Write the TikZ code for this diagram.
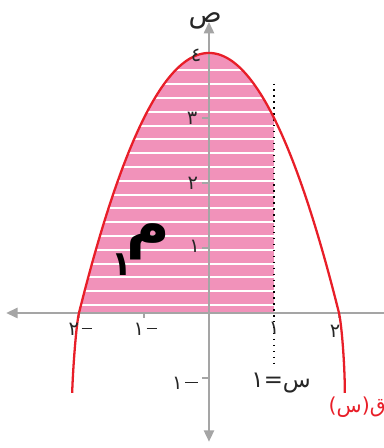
\documentclass[tikz,border=0pt]{standalone}
\usepackage{fontspec}
\newfontfamily\arabicfont[Script=Arabic]{DejaVu Sans}
\TeXXeTstate=1
\usetikzlibrary{arrows.meta}
\definecolor{axisgray}{RGB}{165,165,165}
\definecolor{curvered}{RGB}{232,30,40}
\definecolor{shadepink}{RGB}{241,146,186}
\newcommand{\negdash}[1]{\kern1.2pt\rule[2.9pt]{#1}{0.45pt}}
\begin{document}
\begin{tikzpicture}[x=1cm,y=1cm,
  axisline/.style={draw=axisgray, line width=0.8pt},
  axistip/.style={-{Triangle[length=5pt,width=4.5pt]}},
  ticklabel/.style={font=\arabicfont\fontsize{8.5}{10}\selectfont, inner sep=0pt, text=black!85},
  curvelabel/.style={font=\arabicfont\fontsize{10}{12}\selectfont, inner sep=0pt},
  tickmark/.style={draw=axisgray, line width=0.7pt},
  stripe/.style={draw=white, line width=0.85pt}]
\useasboundingbox (-3.215,-2.077) rectangle (2.692,4.815);
% shaded region
\fill[shadepink] (-2,0) -- plot[domain=-2:1, samples=80] (\x,{4-\x*\x}) -- (1,0) -- cycle;
\begin{scope}
  \clip (-2,0) -- plot[domain=-2:1, samples=80] (\x,{4-\x*\x}) -- (1,0) -- cycle;
  \foreach \k in {0,...,17}
    \draw[stripe] (-2.2,{0.123+0.2123*\k}) -- (1.2,{0.123+0.2123*\k});
\end{scope}
% axes
\coordinate (xr) at (2.692,0);
\coordinate (xl) at (-3.12,0);
\coordinate (yt) at (0,4.477);
\coordinate (yb) at (0,-1.98);
\draw[axisline,axistip] (xr) -- (xl);
\draw[axisline,{Triangle[length=5pt,width=4.5pt]}-{Triangle[length=5pt,width=4.5pt]}] (yb) -- (yt);
% ticks
\foreach \yy in {1,2,3,-1}
  \draw[tickmark] (-0.11,\yy) -- (0,\yy);
\foreach \xx in {-2,-1,2}
  \draw[tickmark] (\xx,0) -- (\xx,-0.07);
% dotted line x = 1
\coordinate (dt) at (1,3.53);
\coordinate (db) at (1,-0.80);
\draw[dotted, line width=0.6pt] (dt) -- (db);
% curve
\draw[curvered, line width=1pt] (-2.105,-1.23) .. controls (-2.09,-0.8) and (-2.04,-0.16) .. (-2,0)
  -- plot[domain=-2:2, samples=120] (\x,{4-\x*\x})
  .. controls (2.04,-0.16) and (2.09,-0.8) .. (2.09,-1.23);
% labels
\node[font=\arabicfont\fontsize{12}{14}\selectfont, inner sep=0pt, text=black!85] (ylab) at (-0.06,4.5) {ص};
\node[ticklabel] (y4) at (-0.2,3.97) {٤};
\node[ticklabel] (y3) at (-0.26,3.0) {٣};
\node[ticklabel] (y2) at (-0.25,2.0) {٢};
\node[ticklabel] (y1) at (-0.22,1.03) {١};
\node[ticklabel] (ym1) at (-0.37,-1.08) {١\negdash{5.5pt}};
\node[ticklabel] (xm2) at (-1.98,-0.25) {٢\negdash{4.5pt}};
\node[ticklabel] (xm1) at (-0.98,-0.25) {١\negdash{4.5pt}};
\node[ticklabel] (x1) at (1.0,-0.23) {١};
\node[ticklabel] (x2) at (1.94,-0.29) {٢};
\node[curvelabel, text=black!85] (eqlab) at (1.11,-1.08) {\beginR س=١\endR};
\node[curvelabel, text=curvered, font=\arabicfont\fontsize{9}{11}\selectfont] (flab) at (2.28,-1.45) {\beginR ق(س)\endR};
\node[font=\arabicfont\bfseries\fontsize{26}{30}\selectfont, inner sep=0pt] (mlab) at (-0.94,1.09) {م};
\node[font=\arabicfont\bfseries\fontsize{15}{18}\selectfont, inner sep=0pt] (msub) at (-1.34,0.75) {١};
\end{tikzpicture}
\end{document}
